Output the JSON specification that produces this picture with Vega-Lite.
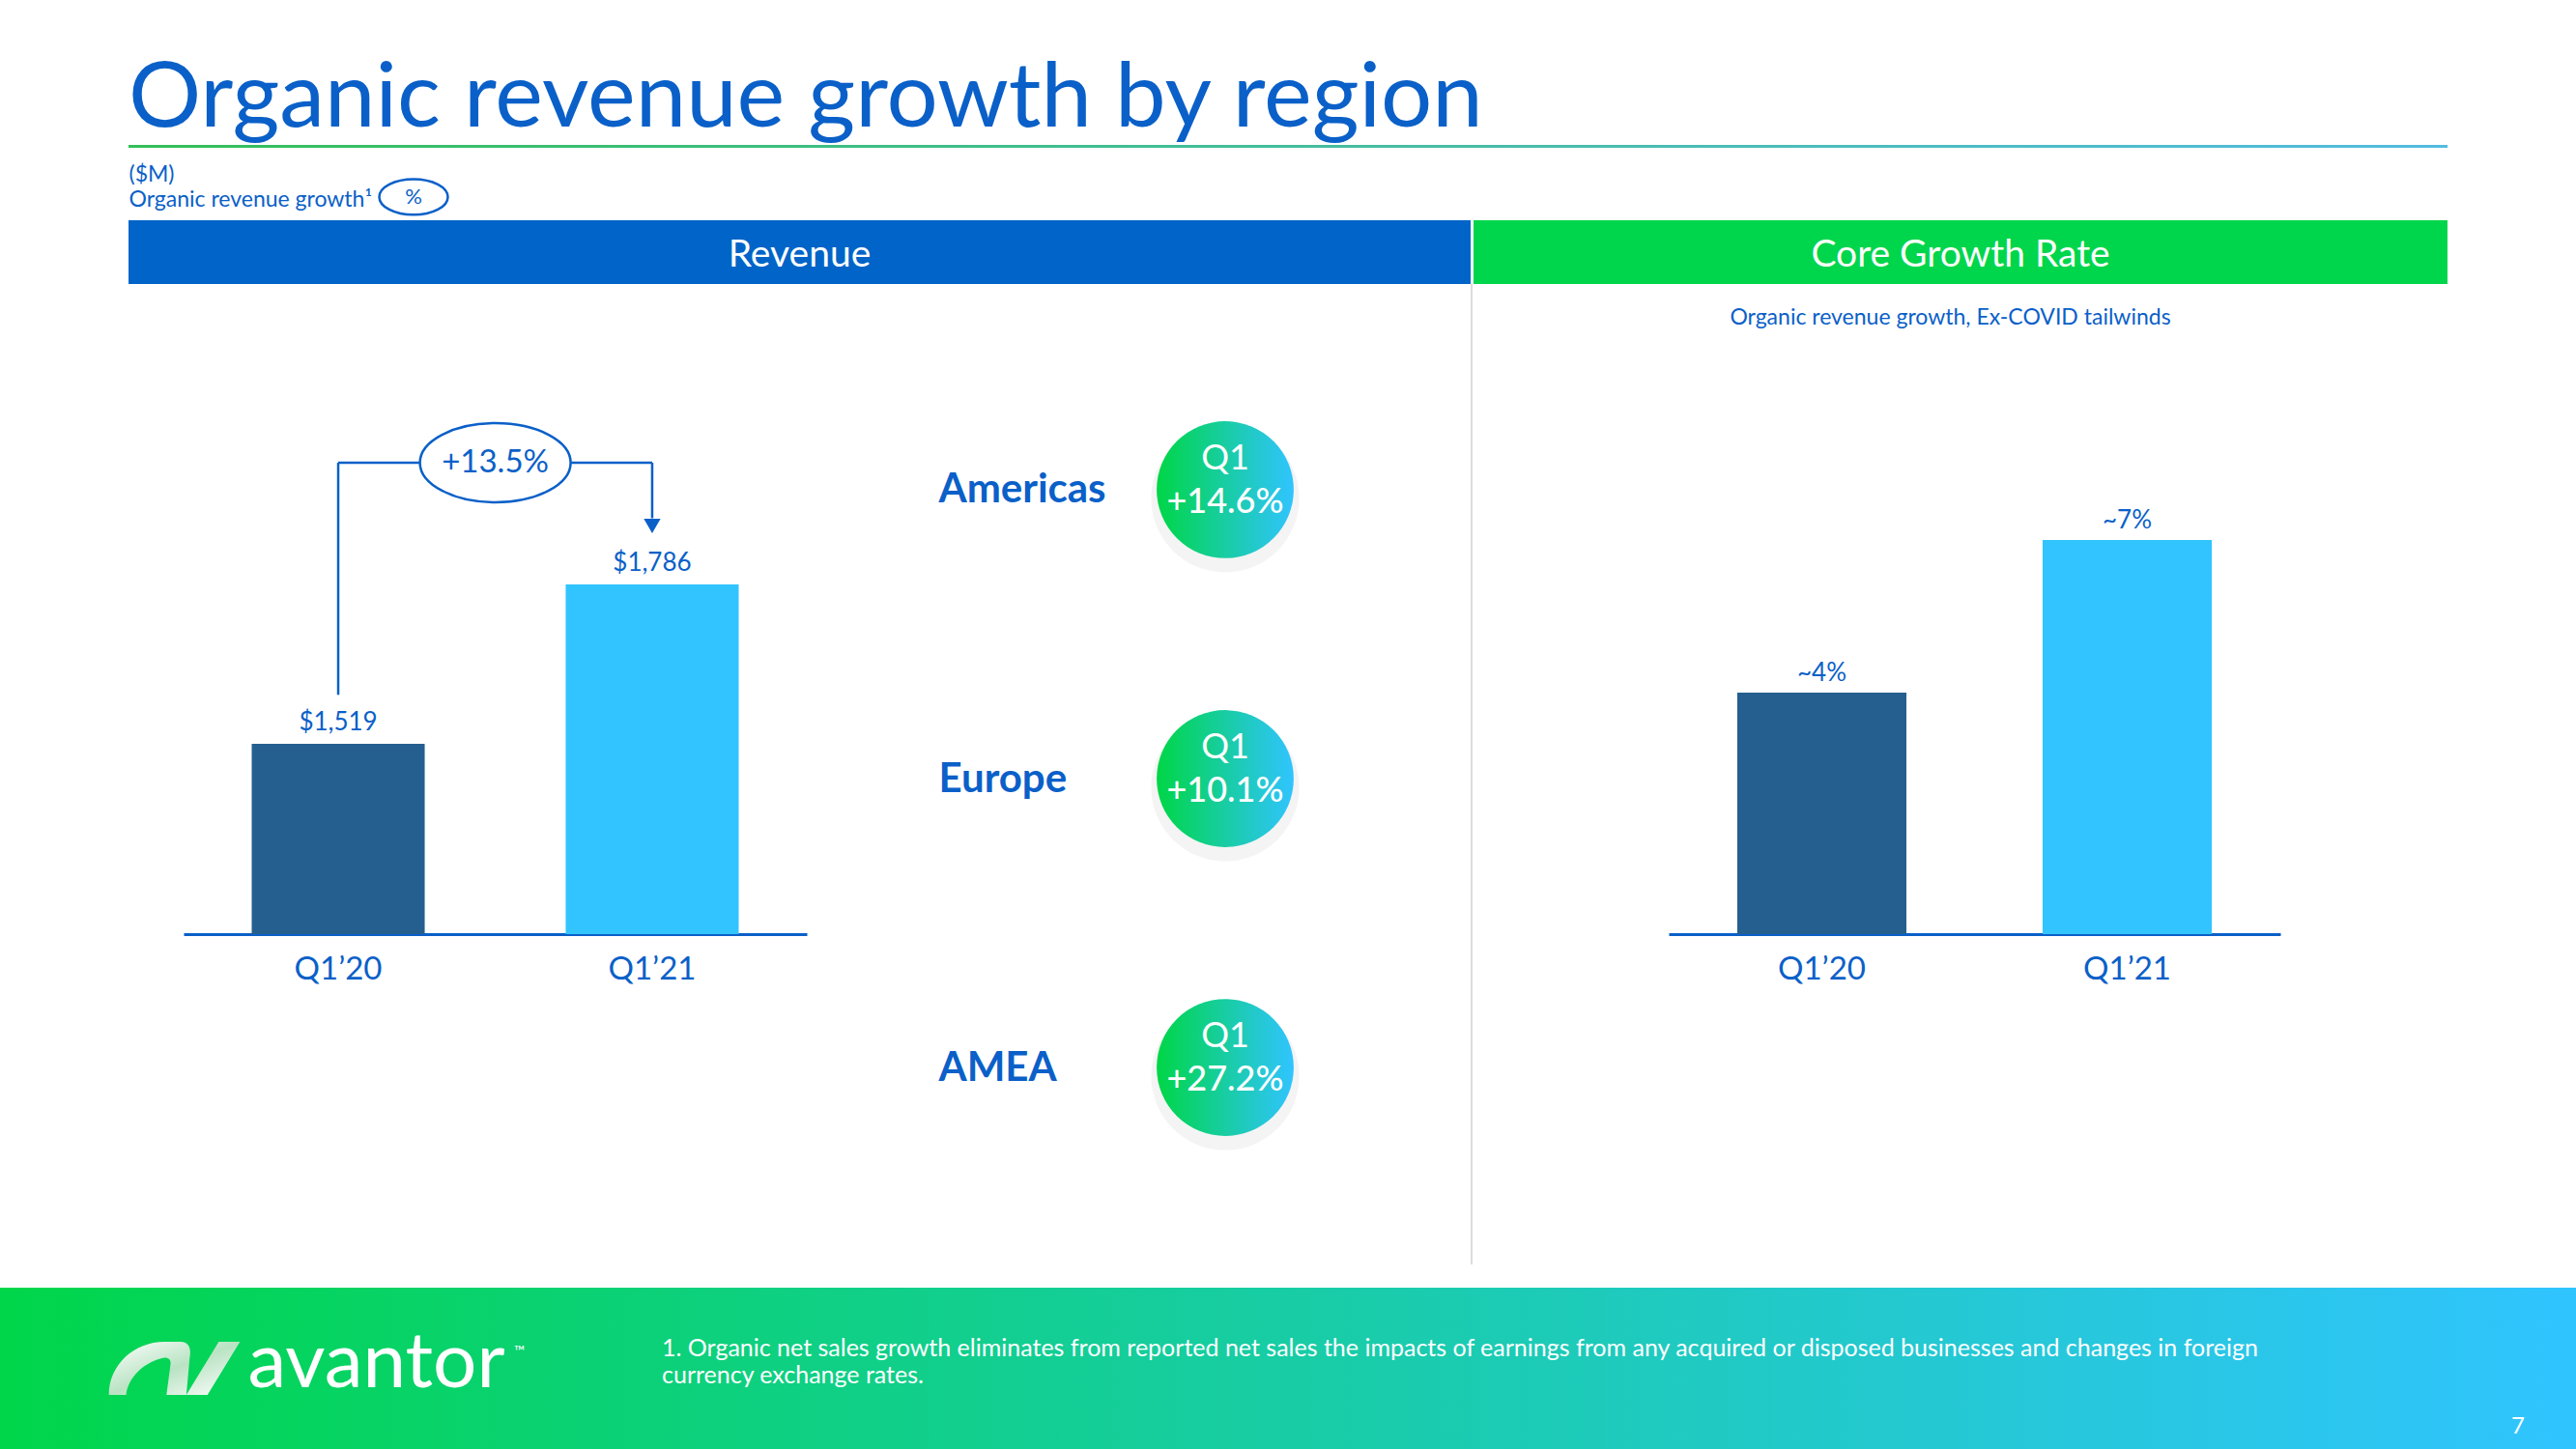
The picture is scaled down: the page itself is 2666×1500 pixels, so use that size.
{
  "$schema": "https://vega.github.io/schema/vega-lite/v6.json",
  "padding": 0,
  "background": "#ffffff",
  "spacing": 0,
  "config": {
    "view": {"stroke": null},
    "font": "Lato",
    "concat": {"spacing": 0},
    "axis": {"labelFont": "Lato", "titleFont": "Lato"},
    "title": {"font": "Lato"}
  },
  "vconcat": [
    {
      "spacing": 0,
      "hconcat": [
        {"width": 133, "height": 1333, "data": {"values": [{"area": "margin"}]}, "mark": {"type": "rect", "color": "#ffffff"}, "encoding": {}},
        {
          "spacing": 0,
          "vconcat": [
            {
              "width": 2400,
              "height": 148,
              "title": {"text": "Organic revenue growth by region", "orient": "bottom", "anchor": "start", "baseline": "alphabetic", "offset": -17, "fontSize": 94, "fontWeight": "normal", "color": "#0A60C8", "font": "Lato"},
              "data": {"values": [{"area": "title"}]},
              "mark": {"type": "rect", "color": "#ffffff"},
              "encoding": {}
            },
            {
              "width": 2400,
              "height": 3,
              "data": {"values": [{"line": "underline"}]},
              "mark": {"type": "rect", "color": {"gradient": "linear", "x1": 0, "y1": 0, "x2": 1, "y2": 0, "stops": [{"offset": 0, "color": "#34BF58"}, {"offset": 1, "color": "#52BCE0"}]}},
              "encoding": {}
            },
            {
              "width": 590,
              "height": 75,
              "data": {"values": [{"item": "($M)"}, {"item": "Organic revenue growth¹", "symbol": "%"}]},
              "transform": [{"filter": "datum.symbol"}],
              "encoding": {
                "y": {"field": "item", "type": "nominal", "sort": null,
                  "scale": {"type": "point", "padding": 0.9, "domain": ["($M)", "Organic revenue growth¹"]},
                  "axis": {"orient": "left", "labelAlign": "left", "labelPadding": 0, "labelOffset": 3, "domain": false, "ticks": false, "title": null, "labelFontSize": 23, "labelColor": "#0A60C8", "labelLimit": 0, "labelOverlap": false}}
              },
              "layer": [
                {"mark": {"type": "point", "shape": "M-1,0A1,0.52,0,1,1,1,0A1,0.52,0,1,1,-1,0Z", "size": 5041, "filled": false, "color": "#0A60C8", "strokeWidth": 2.5, "opacity": 1}},
                {"mark": {"type": "text", "fontSize": 22, "color": "#0A60C8", "baseline": "middle"}, "encoding": {"text": {"field": "symbol"}}}
              ]
            },
            {
              "spacing": 3,
              "bounds": "flush",
              "hconcat": [
                {
                  "width": 1389,
                  "height": 66,
                  "data": {"values": [{"panel": "Revenue"}]},
                  "layer": [
                    {"mark": {"type": "rect", "color": "#0064C8"}, "encoding": {}},
                    {"mark": {"type": "text", "color": "#ffffff", "fontSize": 39, "baseline": "middle", "dy": 3}, "encoding": {"text": {"field": "panel"}}}
                  ]
                },
                {
                  "width": 1008,
                  "height": 66,
                  "data": {"values": [{"panel": "Core Growth Rate"}]},
                  "layer": [
                    {"mark": {"type": "rect", "color": "#00D64B"}, "encoding": {}},
                    {"mark": {"type": "text", "color": "#ffffff", "fontSize": 39, "baseline": "middle", "dy": 3}, "encoding": {"text": {"field": "panel"}}}
                  ]
                }
              ]
            },
            {
              "spacing": 0,
              "bounds": "flush",
              "hconcat": [
                {"width": 57, "height": 1, "data": {"values": [{"area": "gap"}]}, "mark": {"type": "rect", "color": "#ffffff"}, "encoding": {}},
                {
                  "width": 645,
                  "height": 673,
                  "data": {"values": [{"quarter": "Q1’20", "revenue": 1519}, {"quarter": "Q1’21", "revenue": 1786}]},
                  "encoding": {
                    "x": {"field": "quarter", "type": "nominal", "sort": null,
                      "scale": {"paddingInner": 0.449, "paddingOuter": 0.217},
                      "axis": {"orient": "bottom", "title": null, "labelAngle": 0, "ticks": false, "domainColor": "#0A60C8", "domainWidth": 3, "labelFontSize": 33, "labelColor": "#0A60C8", "labelPadding": 20, "grid": false}}
                  },
                  "layer": [
                    {
                      "mark": {"type": "bar"},
                      "encoding": {
                        "y": {"field": "revenue", "type": "quantitative", "scale": {"domain": [1200, 2289.5], "zero": false, "nice": false}, "axis": null},
                        "y2": {"datum": 1200},
                        "color": {"field": "quarter", "type": "nominal", "scale": {"range": ["#245F8F", "#31C4FF"]}, "legend": null}
                      }
                    },
                    {
                      "mark": {"type": "text", "baseline": "alphabetic", "dy": -14, "fontSize": 26, "color": "#0A60C8"},
                      "encoding": {
                        "y": {"field": "revenue", "type": "quantitative"},
                        "text": {"field": "revenue", "type": "quantitative", "format": "$,d"}
                      }
                    },
                    {
                      "data": {"values": [{"from": "Q1’20", "to": "Q1’21", "growth": 0.135}]},
                      "layer": [
                        {"mark": {"type": "rule", "color": "#0A60C8", "strokeWidth": 2.5},
                          "encoding": {"x": {"field": "from", "type": "nominal"}, "y": {"datum": 1601}, "y2": {"datum": 1990}}},
                        {"mark": {"type": "rule", "color": "#0A60C8", "strokeWidth": 2.5},
                          "encoding": {"x": {"field": "from", "type": "nominal"}, "x2": {"field": "to"}, "y": {"datum": 1990}}},
                        {"mark": {"type": "rule", "color": "#0A60C8", "strokeWidth": 2.5},
                          "encoding": {"x": {"field": "to", "type": "nominal"}, "y": {"datum": 1990}, "y2": {"datum": 1897}}},
                        {"mark": {"type": "point", "shape": "triangle-down", "size": 300, "filled": true, "color": "#0A60C8", "opacity": 1},
                          "encoding": {"x": {"field": "to", "type": "nominal"}, "y": {"datum": 1884}}},
                        {"mark": {"type": "point", "shape": "M-1,0A1,0.525,0,1,1,1,0A1,0.525,0,1,1,-1,0Z", "size": 24336, "fill": "#ffffff", "fillOpacity": 1, "stroke": "#0A60C8", "strokeWidth": 2.5, "opacity": 1},
                          "encoding": {"x": {"field": "from", "type": "nominal", "bandPosition": 1.408}, "y": {"datum": 1990}}},
                        {"mark": {"type": "text", "fontSize": 33, "color": "#0A60C8", "baseline": "middle"},
                          "encoding": {"x": {"field": "from", "type": "nominal", "bandPosition": 1.408}, "y": {"datum": 1990}, "text": {"field": "growth", "type": "quantitative", "format": "+.1%"}}}
                      ]
                    }
                  ]
                },
                {"width": 179, "height": 1, "data": {"values": [{"area": "gap"}]}, "mark": {"type": "rect", "color": "#ffffff"}, "encoding": {}},
                {
                  "width": 508,
                  "height": 1024,
                  "data": {"values": [
                    {"region": "Americas", "period": "Q1", "growth": 0.146},
                    {"region": "Europe", "period": "Q1", "growth": 0.101},
                    {"region": "AMEA", "period": "Q1", "growth": 0.272}
                  ]},
                  "encoding": {
                    "y": {"field": "region", "type": "nominal", "sort": null,
                      "scale": {"type": "point", "padding": 0.712},
                      "axis": {"orient": "left", "labelAlign": "left", "labelPadding": 43, "domain": false, "ticks": false, "title": null, "labelFontSize": 42, "labelFontWeight": "bold", "labelColor": "#0A60C8", "labelLimit": 0, "labelOverlap": false}}
                  },
                  "layer": [
                    {"mark": {"type": "point", "shape": "circle", "filled": true, "size": 23500, "color": "#000000", "opacity": 0.045}, "encoding": {"yOffset": {"value": 9}}},
                    {"mark": {"type": "point", "shape": "circle", "filled": true, "size": 20106, "opacity": 1, "strokeWidth": 0,
                      "color": {"gradient": "linear", "x1": 0, "y1": 0, "x2": 1, "y2": 0, "stops": [{"offset": 0, "color": "#00D646"}, {"offset": 1, "color": "#30C4FF"}]}}},
                    {"mark": {"type": "text", "color": "#ffffff", "fontSize": 36, "baseline": "middle", "dy": -32}, "encoding": {"text": {"field": "period"}}},
                    {"mark": {"type": "text", "color": "#ffffff", "fontSize": 36, "fontWeight": 500, "baseline": "middle", "dy": 13}, "encoding": {"text": {"field": "growth", "type": "quantitative", "format": "+.1%"}}}
                  ]
                },
                {"width": 2, "height": 1015, "data": {"values": [{"divider": "panel separator"}]}, "mark": {"type": "rect", "color": "#DCDCDC"}, "encoding": {}},
                {"width": 203, "height": 1, "data": {"values": [{"area": "gap"}]}, "mark": {"type": "rect", "color": "#ffffff"}, "encoding": {}},
                {
                  "width": 633,
                  "height": 673,
                  "title": {"text": "Organic revenue growth, Ex-COVID tailwinds", "orient": "top", "anchor": "middle", "offset": -58, "baseline": "middle", "fontSize": 23, "fontWeight": "normal", "color": "#0A60C8", "dx": -25},
                  "data": {"values": [{"quarter": "Q1’20", "rate": 4, "label": "~4%"}, {"quarter": "Q1’21", "rate": 7, "label": "~7%"}]},
                  "encoding": {
                    "x": {"field": "quarter", "type": "nominal", "sort": null,
                      "scale": {"paddingInner": 0.446, "paddingOuter": 0.2245},
                      "axis": {"orient": "bottom", "title": null, "labelAngle": 0, "ticks": false, "domainColor": "#0A60C8", "domainWidth": 3, "labelFontSize": 33, "labelColor": "#0A60C8", "labelPadding": 20, "grid": false}}
                  },
                  "layer": [
                    {
                      "mark": {"type": "bar"},
                      "encoding": {
                        "y": {"field": "rate", "type": "quantitative", "scale": {"domain": [-0.747, 12.03], "zero": false, "nice": false}, "axis": null},
                        "y2": {"datum": -0.747},
                        "color": {"field": "quarter", "type": "nominal", "scale": {"range": ["#245F8F", "#31C4FF"]}, "legend": null}
                      }
                    },
                    {
                      "mark": {"type": "text", "baseline": "alphabetic", "dy": -12, "fontSize": 26, "color": "#0A60C8"},
                      "encoding": {
                        "y": {"field": "rate", "type": "quantitative"},
                        "text": {"field": "label"}
                      }
                    }
                  ]
                }
              ]
            }
          ]
        }
      ]
    },
    {
      "spacing": 0,
      "bounds": "flush",
      "hconcat": [
        {
          "width": 685,
          "height": 167,
          "data": {"values": [{"brand": "avantor", "tm": "™"}]},
          "layer": [
            {"mark": {"type": "rect", "color": {"gradient": "linear", "x1": 0, "y1": 0, "x2": 1, "y2": 0, "stops": [{"offset": 0, "color": "#00D64A"}, {"offset": 1, "color": "#0CD179"}]}}, "encoding": {}},
            {"mark": {"type": "point", "shape": "M-0.99,0.4C-0.99,-0.05,-0.61,-0.4,-0.15,-0.4L0.09,-0.4C0.22,-0.4,0.26,-0.3,0.23,-0.15L0.18,0.4L-0.12,0.4L-0.06,-0.05C-0.04,-0.15,-0.12,-0.18,-0.2,-0.15C-0.47,-0.08,-0.7,0.14,-0.73,0.4ZM0.18,0.4L0.5,0.4L0.99,-0.4L0.67,-0.4Z", "size": 18769, "filled": true, "opacity": 1, "strokeWidth": 0,
              "color": {"gradient": "linear", "x1": 0, "y1": 0, "x2": 1, "y2": 1, "stops": [{"offset": 0, "color": "#FFFFFF"}, {"offset": 0.5, "color": "#B9E3C3"}, {"offset": 1, "color": "#FFFFFF"}]}},
              "encoding": {"xOffset": {"value": -162}}},
            {"mark": {"type": "text", "color": "#ffffff", "fontSize": 80, "baseline": "alphabetic", "dx": 47, "dy": 19}, "encoding": {"text": {"field": "brand"}}},
            {"mark": {"type": "text", "color": "#ffffff", "fontSize": 15, "baseline": "middle", "dx": 195, "dy": -18}, "encoding": {"text": {"field": "tm"}}}
          ]
        },
        {
          "width": 1861,
          "height": 167,
          "title": {"text": ["1. Organic net sales growth eliminates from reported net sales the impacts of earnings from any acquired or disposed businesses and changes in foreign", "currency exchange rates."], "orient": "top", "anchor": "start", "offset": -116, "baseline": "middle", "fontSize": 25, "lineHeight": 28, "fontWeight": "normal", "color": "#ffffff"},
          "data": {"values": [{"note": "footnote 1"}]},
          "mark": {"type": "rect", "color": {"gradient": "linear", "x1": 0, "y1": 0, "x2": 1, "y2": 0, "stops": [{"offset": 0, "color": "#0CD179"}, {"offset": 1, "color": "#2EC5F7"}]}},
          "encoding": {}
        },
        {
          "width": 120,
          "height": 167,
          "data": {"values": [{"page": "7"}]},
          "layer": [
            {"mark": {"type": "rect", "color": {"gradient": "linear", "x1": 0, "y1": 0, "x2": 1, "y2": 0, "stops": [{"offset": 0, "color": "#2EC5F7"}, {"offset": 1, "color": "#30C4FF"}]}}, "encoding": {}},
            {"mark": {"type": "text", "color": "#ffffff", "fontSize": 24, "baseline": "middle", "dy": 60}, "encoding": {"text": {"field": "page"}}}
          ]
        }
      ]
    }
  ]
}
